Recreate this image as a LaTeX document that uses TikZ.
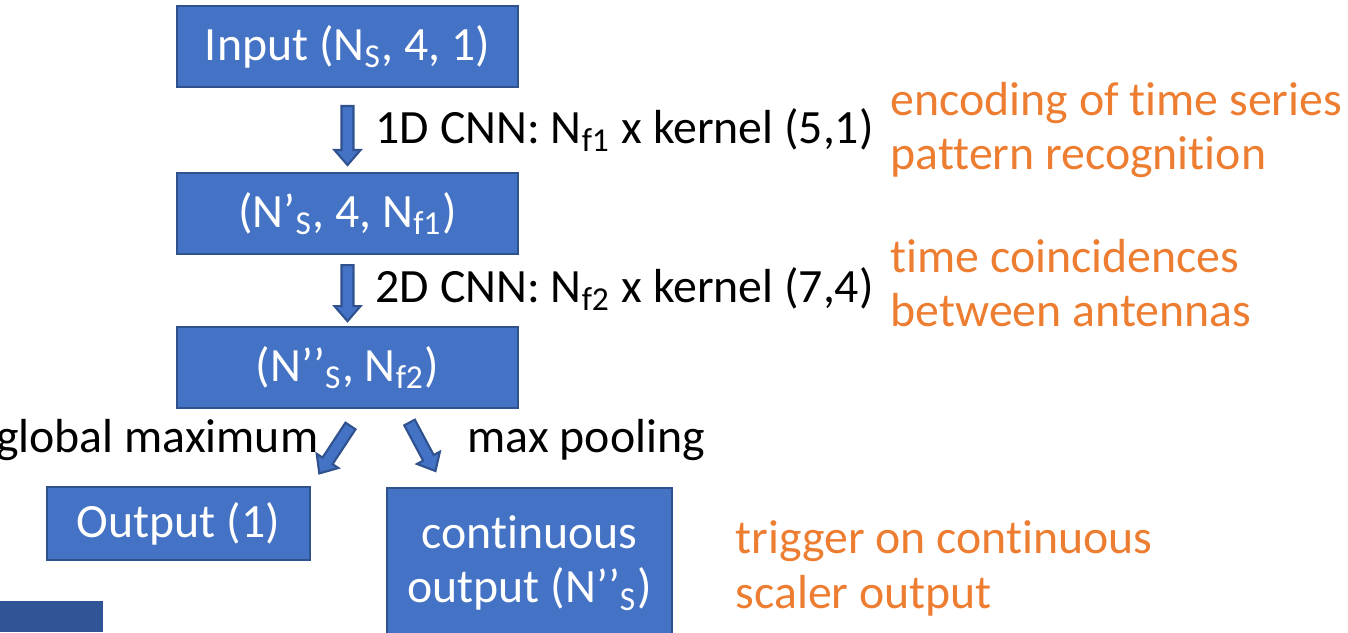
\documentclass[tikz,border=0pt]{standalone}
\usepackage{fontspec}
\setmainfont{Carlito}[Ligatures={TeX,NoCommon}]
\usepackage{tikz}
\usepackage{xcolor}
\usetikzlibrary{shapes,arrows,positioning,calc}

\definecolor{boxblue}{HTML}{4472C4}
\definecolor{boxline}{HTML}{2F528F}
\definecolor{darkblue}{HTML}{2F5597}
\definecolor{noteorange}{HTML}{ED7D31}

\begin{document}
\begin{tikzpicture}[
    node distance = 0.8cm,
    every node/.style = {align=center, font=\fontsize{13.6}{15.6}\selectfont},
    layer/.style = {draw=boxline, fill=boxblue, line width=0.6pt, text=white,
                    minimum width=3.41cm, minimum height=0.81cm},
    lbl/.style = {inner sep=0pt},
    note/.style = {inner sep=0pt, align=left, text=noteorange},
    blockarr/.style 2 args = {draw=boxline, fill=boxblue, line width=0.6pt,
      to path={let \p1=($(\tikztostart)!#1!(\tikztotarget)$),
                   \p2=($(\tikztotarget)!#2!(\tikztostart)$),
                   \n1={atan2(\y2-\y1,\x2-\x1)} in
        ($(\p1)+(\n1+90:0.06)$)
        -- ($(\p2)+(\n1+180:0.15)+(\n1+90:0.06)$)
        -- ($(\p2)+(\n1+180:0.15)+(\n1+90:0.13)$)
        -- (\p2)
        -- ($(\p2)+(\n1+180:0.15)+(\n1-90:0.13)$)
        -- ($(\p2)+(\n1+180:0.15)+(\n1-90:0.06)$)
        -- ($(\p1)+(\n1-90:0.06)$) -- cycle}}
  ]

  \useasboundingbox (0,0) rectangle (13.48,6.32);

  % layers
  \node[layer] (input) at (3.475,5.855) {Input (N\textsubscript{S}, 4, 1)};
  \node[layer] (layer1) [below=0.84cm of input] {(N’\textsubscript{S}, 4, N\textsubscript{f1})};
  \node[layer] (layer2) [below=0.71cm of layer1] {(N’’\textsubscript{S}, N\textsubscript{f2})};
  \node[layer, minimum width=2.63cm, minimum height=0.73cm] (output) at (1.785,1.085) {Output (1)};
  \node[layer, minimum width=2.85cm, minimum height=1.5cm] (cont) at (5.295,0.69) {continuous\\output (N’’\textsubscript{S})};

  % operations
  \node[lbl, anchor=base west] (cnn1) at (3.75,4.88) {1D CNN: N\textsubscript{f1} x kernel (5,1)};
  \node[lbl, anchor=base west] (cnn2) at (3.75,3.29) {2D CNN: N\textsubscript{f2} x kernel (7,4)};
  \node[lbl, anchor=base east] (globmax) at (3.19,1.80) {global maximum};
  \node[lbl, anchor=base west] (maxpool) at (4.67,1.80) {max pooling};

  % remarks (base = last line)
  \node[note, anchor=base west] (encnote) at (8.90,4.62) {encoding of time series\\pattern recognition};
  \node[note, anchor=base west] (coincnote) at (8.90,3.05) {time coincidences\\between antennas};
  \node[note, anchor=base west] (trignote) at (7.35,0.24) {trigger on continuous\\scaler output};

  \draw[blockarr={0.18cm}{0.07cm}] (input.south) to (layer1.north);
  \draw[blockarr={0.10cm}{0.05cm}] (layer1.south) to (layer2.north);
  \draw[blockarr={0.20cm}{0.15cm}] ([xshift=0.14cm]layer2.south) to (output.north east);
  \draw[blockarr={0.15cm}{0.18cm}] ([xshift=0.55cm]layer2.south) to ([xshift=0.58cm]cont.north west);

  \fill[darkblue] (0,0) rectangle (1.03,0.31);

\end{tikzpicture}
\end{document}
